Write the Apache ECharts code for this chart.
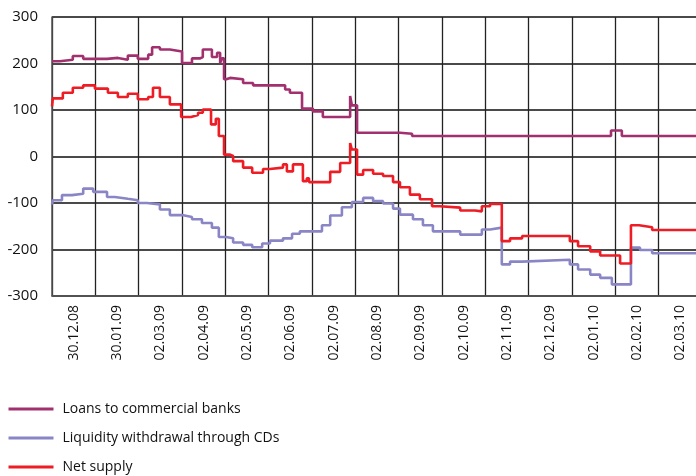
<!DOCTYPE html>
<html>
<head>
<meta charset="utf-8">
<script src="https://cdn.jsdelivr.net/npm/echarts@6/dist/echarts.min.js"></script>
<style>
  html, body { margin: 0; padding: 0; background: #fff; overflow: hidden; }
  #chart { width: 702px; height: 476px; }
</style>
</head>
<body>
<div id="chart"></div>
<script>
// month labels under the axis
var categories = ['30.12.08','30.01.09','02.03.09','02.04.09','02.05.09','02.06.09','02.07.09',
  '02.08.09','02.09.09','02.10.09','02.11.09','02.12.09','02.01.10','02.02.10','02.03.10'];

// time in months from the first label's slot start, value in the unit of the y axis
var loansT = [0,0.18,0.48,0.72,1.27,1.52,1.75,1.98,2.22,2.31,2.49,2.72,3.00,3.23,3.42,3.48,3.69,3.81,3.88,3.92,
  3.97,4.02,4.11,4.41,4.64,5.38,5.49,5.77,6.02,6.25,6.88,6.92,7.04,8.03,8.31,12.90,13.15,15];
var loansV = [205,208,216,210,212,208,217,210,219,235,230,226,201,211,214,230,214,223,201,211,
  166,169,166,158,153,144,137,103,97,85,130,110,51,49,44,56,44,44];

var cdsT = [0,0.02,0.23,0.46,0.72,0.95,1.27,1.45,1.75,1.98,2.19,2.49,2.72,3.00,3.23,3.46,3.69,3.85,4.02,4.18,
  4.41,4.62,4.85,5.03,5.33,5.54,5.72,6.23,6.42,6.69,6.92,7.18,7.41,7.64,7.87,8.03,8.33,8.56,8.79,9.42,
  9.92,10.11,10.38,10.57,10.85,11.95,12.14,12.42,12.65,12.92,13.36,13.57,13.85,15];
var cdsV = [-103,-94,-83,-80,-69,-76,-87,-91,-94,-100,-103,-114,-126,-130,-135,-143,-153,-173,-176,-185,
  -190,-195,-187,-181,-176,-166,-161,-148,-127,-109,-98,-89,-96,-101,-112,-125,-135,-148,-161,-168,
  -157,-153,-232,-226,-222,-232,-243,-254,-261,-275,-196,-201,-208,-208];

var netT = [0,0.02,0.25,0.48,0.72,0.99,1.29,1.52,1.75,1.98,2.22,2.33,2.49,2.72,2.98,3.21,3.37,3.48,3.67,3.78,
  3.85,3.97,4.11,4.18,4.41,4.62,4.87,5.03,5.33,5.42,5.56,5.79,5.88,5.93,6.42,6.65,6.88,6.92,7.04,7.18,
  7.41,7.64,7.87,8.03,8.26,8.49,8.77,8.95,9.42,9.76,9.92,10.11,10.38,10.57,10.85,11.95,12.14,12.42,12.65,13.11,
  13.36,13.55,13.85,15];
var netV = [108,125,137,148,153,146,137,128,135,123,128,148,128,112,85,89,94,101,69,81,
  44,4,1,-10,-24,-35,-27,-24,-17,-32,-17,-53,-47,-55,-33,-14,29,15,-39,-29,
  -37,-42,-55,-66,-82,-92,-107,-110,-116,-118,-107,-102,-182,-176,-171,-182,-193,-204,-213,-230,
  -148,-152,-158,-158];

function pairs(t, v) {
  var out = [];
  for (var i = 0; i < t.length; i++) out.push([t[i], v[i]]);
  return out;
}

var font = '"Open Sans", "Noto Sans", sans-serif';
var myChart = echarts.init(document.getElementById('chart'));

function lineSeries(name, color, data) {
  return {
    name: name,
    type: 'line',
    xAxisIndex: 1,
    step: 'end',
    symbol: 'none',
    z: 3,
    lineStyle: { color: color, width: 2.6 },
    itemStyle: { color: color },
    data: data
  };
}

var option = {
  animation: false,
  grid: { left: 52, top: 17, bottom: 180, right: 0 },
  legend: {
    orient: 'vertical',
    left: 7,
    top: 401,
    height: 76,
    padding: 0,
    itemWidth: 45,
    itemHeight: 10,
    itemGap: 13,
    itemStyle: { opacity: 0 },
    lineStyle: { width: 3 },
    textStyle: { fontFamily: font, fontSize: 14, lineHeight: 16, color: '#111', padding: [0, 0, 0, 4] },
    data: ['Loans to commercial banks', 'Liquidity withdrawal through CDs', 'Net supply']
  },
  xAxis: [{
    type: 'category',
    data: categories,
    axisLine: { onZero: false, lineStyle: { color: '#555', width: 1.5 } },
    axisTick: { show: false },
    splitLine: { show: true, interval: 0, lineStyle: { color: '#222', width: 1.3 } },
    axisLabel: { interval: 0, rotate: 90, margin: 9, fontFamily: font, fontSize: 14, color: '#111' }
  }, {
    type: 'value',
    min: 0,
    max: 15,
    show: false
  }],
  yAxis: {
    type: 'value',
    min: -300,
    max: 300,
    interval: 100,
    axisLine: { show: true, lineStyle: { color: '#555', width: 1.5 } },
    axisTick: { show: false },
    splitLine: { show: true, lineStyle: { color: '#4a4a4a', width: 2 } },
    axisLabel: { margin: 14, fontFamily: font, fontSize: 15, color: '#111' }
  },
  series: [
    lineSeries('Loans to commercial banks', '#a2306f', pairs(loansT, loansV)),
    lineSeries('Liquidity withdrawal through CDs', '#8a86c6', pairs(cdsT, cdsV)),
    lineSeries('Net supply', '#ee1c25', pairs(netT, netV))
  ]
};
myChart.setOption(option);
</script>
</body>
</html>
